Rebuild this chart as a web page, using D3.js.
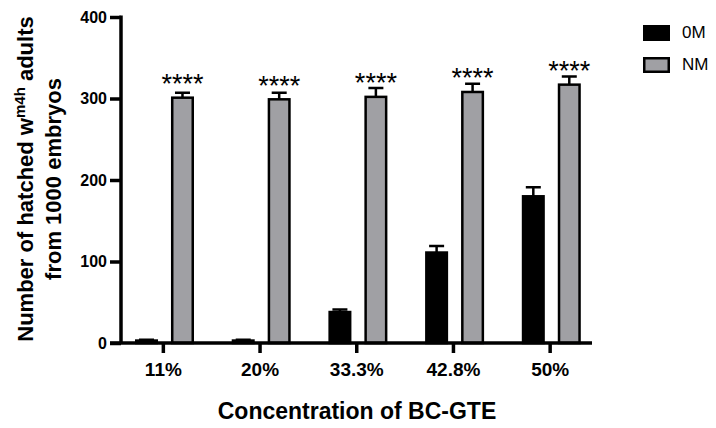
<!DOCTYPE html>
<html>
<head>
<meta charset="utf-8">
<script src="https://cdn.jsdelivr.net/npm/d3@7"></script>
<style>
  body { margin: 0; background: #fff; }
  svg { display: block; font-family: Arial, "Liberation Sans", sans-serif; }
</style>
</head>
<body>
<div id="chart"></div>
<script>
// data
const categories = ['11%', '20%', '33.3%', '42.8%', '50%'];
const seriesNames = ['0M', 'NM'];
const om = [3, 3, 38, 111, 180];
const omErr = [1, 1, 3, 8, 11];
const nm = [301, 299, 302, 308, 317];
const nmErr = [6, 8, 11, 10, 10];
const yTicks = [0, 100, 200, 300, 400];
const stars = ['****', '****', '****', '****', '****'];

const width = 716;
const height = 428;

const colors = { '0M': '#000000', 'NM': '#a0a0a4' };

const rows = categories.map((c, i) => ({
    cat: c,
    star: stars[i],
    bars: [
        { series: '0M', value: om[i], err: omErr[i] },
        { series: 'NM', value: nm[i], err: nmErr[i] }
    ]
}));

const svg = d3.select('#chart')
    .append('svg')
    .attr('width', width)
    .attr('height', height);

const x = d3.scaleBand()
    .domain(categories)
    .range([115, 598.5]);

const xInner = d3.scaleBand()
    .domain(seriesNames)
    .range([20, 79])
    .paddingInner(0.36);

const y = d3.scaleLinear()
    .domain([0, 400])
    .range([343, 17]);

const sw = 2.5;

// bars
const groups = svg.selectAll('g.group')
    .data(rows)
    .join('g')
        .attr('class', 'group')
        .attr('transform', d => `translate(${x(d.cat)},0)`);

groups.selectAll('rect')
    .data(d => d.bars)
    .join('rect')
        .attr('x', d => xInner(d.series) + sw / 2)
        .attr('width', xInner.bandwidth() - sw)
        .attr('y', d => y(d.value))
        .attr('height', d => y(0) - y(d.value))
        .attr('fill', d => colors[d.series])
        .attr('stroke', '#000')
        .attr('stroke-width', sw);

// error bars (upper only)
groups.selectAll('path.err')
    .data(d => d.bars)
    .join('path')
        .attr('class', 'err')
        .attr('d', d => {
            const cx = xInner(d.series) + xInner.bandwidth() / 2;
            const top = y(d.value + d.err);
            return `M${cx},${y(d.value)}V${top}M${cx - 7.5},${top}H${cx + 7.5}`;
        })
        .attr('fill', 'none')
        .attr('stroke', '#000')
        .attr('stroke-width', sw);

// significance stars
groups.append('text')
    .attr('x', xInner('NM') + xInner.bandwidth() / 2)
    .attr('y', d => y(d.bars[1].value) - 4.5)
    .attr('text-anchor', 'middle')
    .style('font-size', '27px')
    .text(d => d.star);

// y axis
const yAxis = svg.append('g')
    .attr('transform', 'translate(121,0)')
    .call(d3.axisLeft(y).tickValues(yTicks).tickSize(11).tickPadding(3).tickSizeOuter(0));
yAxis.select('.domain').attr('stroke-width', 3.5).attr('d', `M0,${y(400) - 1.5}V${y(0)}`);
yAxis.selectAll('.tick line').attr('stroke-width', 3.5);
yAxis.selectAll('.tick text')
    .style('font-size', '16px')
    .style('font-weight', 'bold')
    .attr('fill', '#000');

// x axis
const xAxis = svg.append('g')
    .attr('transform', `translate(0,${y(0)})`)
    .call(d3.axisBottom(x).tickSize(10).tickPadding(10).tickSizeOuter(0));
xAxis.select('.domain').attr('stroke-width', 3.5).attr('d', 'M110,0H592');
xAxis.selectAll('.tick line').attr('stroke-width', 3.5);
xAxis.selectAll('.tick text')
    .style('font-size', '19px')
    .style('font-weight', 'bold')
    .attr('fill', '#000');

// axis titles
svg.append('text')
    .attr('x', 357)
    .attr('y', 419)
    .attr('text-anchor', 'middle')
    .style('font-size', '23px')
    .style('font-weight', 'bold')
    .text('Concentration of BC-GTE');

const yTitle = svg.append('text')
    .attr('transform', 'translate(0,179) rotate(-90)')
    .attr('text-anchor', 'middle')
    .style('font-size', '22px')
    .style('font-weight', 'bold');

const line1 = yTitle.append('tspan').attr('x', 0).attr('y', 33);
line1.append('tspan').text('Number of hatched w');
line1.append('tspan').attr('dy', -8).style('font-size', '15px').text('m4h');
line1.append('tspan').attr('dy', 8).text(' adults');

yTitle.append('tspan').attr('x', 0).attr('y', 61).text('from 1000 embryos');

// legend
const legend = svg.selectAll('g.legend')
    .data(seriesNames)
    .join('g')
        .attr('class', 'legend')
        .attr('transform', (d, i) => `translate(643,${25 + i * 32})`);

legend.append('rect')
    .attr('x', sw / 2)
    .attr('y', sw / 2)
    .attr('width', 27 - sw)
    .attr('height', 16 - sw)
    .attr('fill', d => colors[d])
    .attr('stroke', '#000')
    .attr('stroke-width', sw);

legend.append('text')
    .attr('x', 39)
    .attr('y', 8.5)
    .attr('dominant-baseline', 'middle')
    .style('font-size', '17px')
    .text(d => d);
</script>
</body>
</html>
